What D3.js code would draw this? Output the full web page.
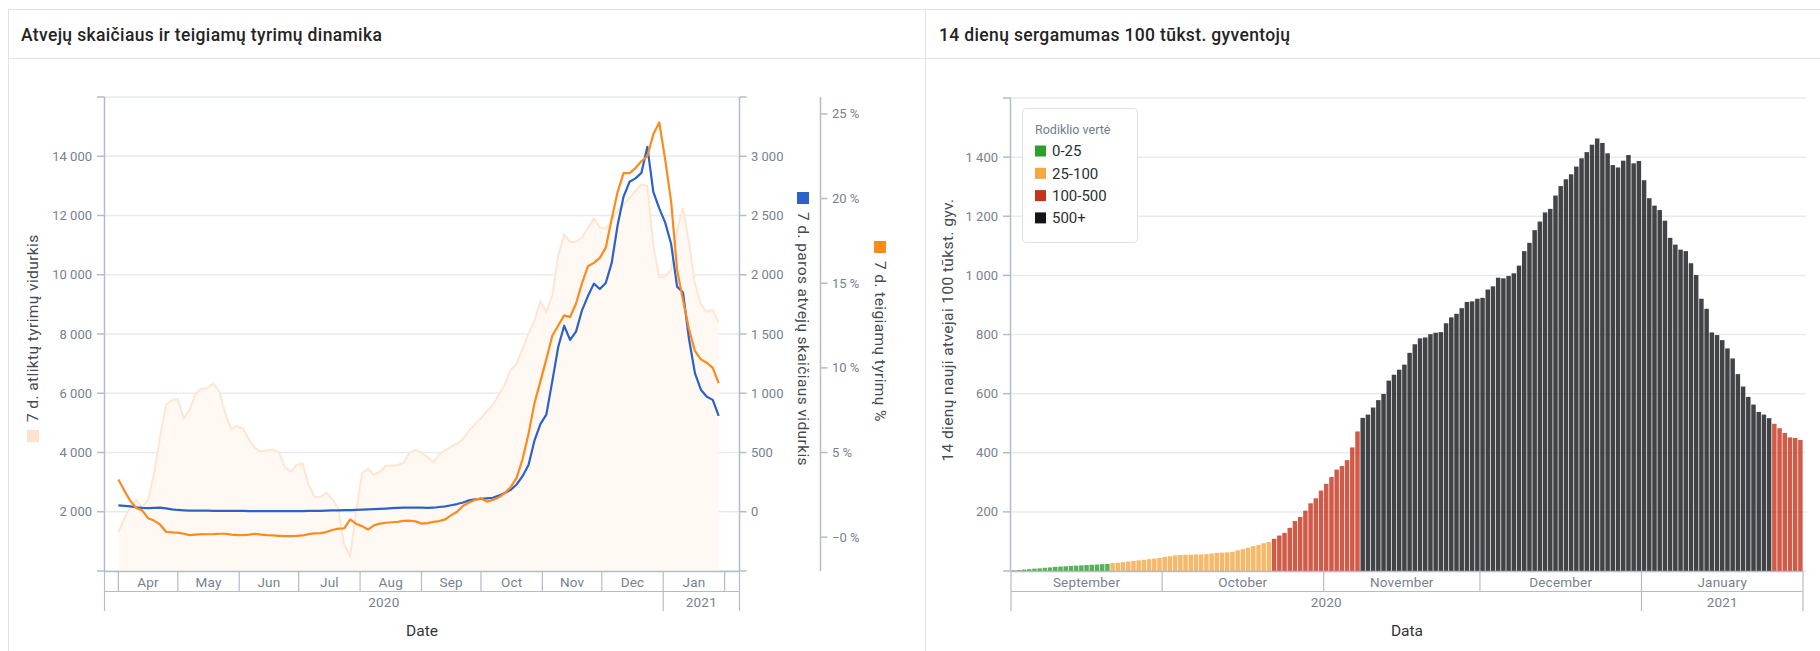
<!DOCTYPE html>
<html><head><meta charset="utf-8">
<script src="https://cdn.jsdelivr.net/npm/d3@7"></script>
<style>
html,body{margin:0;padding:0;background:#fff;}
svg{display:block;font-family:Roboto,"DejaVu Sans",sans-serif;}
</style></head><body>
<svg id="c" width="1820" height="651"></svg>
<script>
// ---------------- DATA ----------------
// Left chart: samples every 3 days starting 2020-04-01
const lineStart = "2020-04-01";
const lineStepDays = 3;
const testsAvg = [1300,1780,2150,2400,2150,2400,3300,4500,5600,5770,5800,5150,5450,5980,6150,6180,6330,6050,5300,4780,4900,4800,4420,4150,4030,4080,4100,4000,3500,3350,3580,3620,2900,2500,2500,2650,2420,2100,900,500,2000,3300,3450,3250,3350,3550,3550,3580,3650,4000,4080,4000,3850,
3680,3950,4080,4200,4300,4450,4750,4950,5150,5400,5600,5950,6280,6800,7000,7500,8000,8450,9100,8750,9300,10650,11350,11100,11120,11250,11580,11900,11600,11550,11850,12180,12380,12580,12840,13050,13000,11000,9900,9950,10150,11500,12250,11100,9700,9000,8750,8820,8400];
const casesAvg = [53,50,45,38,33,30,33,35,28,20,15,12,10,10,9,9,8,8,7,7,7,7,6,6,6,6,5,5,5,5,6,6,7,8,8,10,11,12,13,14,16,18,20,22,25,27,30,32,34,35,36,34,32,
34,40,46,55,65,78,96,105,109,113,118,136,158,185,230,300,395,600,740,820,1100,1390,1570,1450,1520,1700,1820,1925,1880,1930,2100,2420,2660,2785,2813,2860,3080,2700,2560,2440,2260,1900,1850,1460,1170,1030,970,944,810];
const positivePct = [3.4,2.75,2.15,1.72,1.58,1.12,0.98,0.75,0.32,0.28,0.27,0.2,0.12,0.15,0.18,0.17,0.18,0.2,0.2,0.15,0.12,0.12,0.15,0.2,0.15,0.12,0.1,0.08,0.06,0.06,0.07,0.1,0.18,0.22,0.24,0.3,0.42,0.5,0.52,1.05,0.78,0.65,0.45,0.7,0.8,0.85,0.88,0.9,0.96,0.97,0.93,0.8,0.83,
0.9,0.95,1.05,1.3,1.5,1.85,2.05,2.2,2.3,2.1,2.2,2.35,2.6,2.95,3.5,4.6,6.1,7.9,9.2,10.5,11.9,12.5,13.1,13.0,13.8,15.0,16.0,16.2,16.5,17.1,18.8,20.4,21.5,21.5,21.8,22.2,22.5,23.8,24.5,22.3,19.8,15.8,14.0,12.3,11.0,10.5,10.3,10.0,9.1];
const testsTicks = [0,2000,4000,6000,8000,10000,12000,14000,16000];
const testsLabeled = [2000,4000,6000,8000,10000,12000,14000];
const casesTicks = [-500,0,500,1000,1500,2000,2500,3000,3500];
const casesLabeled = [0,500,1000,1500,2000,2500,3000];
const pctTicks = [0,5,10,15,20,25];
const leftMonthNames = ["Apr","May","Jun","Jul","Aug","Sep","Oct","Nov","Dec","Jan"];

// Right chart: one bar per day starting 2020-09-02
const barStart = "2020-09-02";
const incidence14 = [2,3,5,6,8,9,11,12,14,15,16,17,18,19,20,21,22,23,24,
27,28,30,32,34,36,38,40,42,44,48,50,53,54,55,55,56,56,57,59,61,62,63,65,70,74,79,84,88,94,98,
109,120,129,146,169,183,204,229,246,272,295,318,343,355,375,418,472,
518,529,553,578,599,644,664,681,
698,738,767,787,790,801,806,808,838,858,870,889,910,912,921,924,952,963,992,990,998,1007,1033,1082,1110,1153,1182,1213,1225,1270,1302,1325,1342,1368,1396,1417,1442,1463,1448,1413,1373,1365,1388,1407,1379,1387,1322,1261,1236,1221,1185,1127,1104,1087,1082,1041,1001,921,887,807,798,781,753,719,666,624,589,563,538,529,517,
498,483,467,452,450,443];
const incTicks = [0,200,400,600,800,1000,1200,1400,1600];
const incLabeled = [200,400,600,800,1000,1200,1400];
const legendTitle = "Rodiklio vertė";
const legendLabels = ["0-25","25-100","100-500","500+"];
const legendColors = ["#2ca02c","#f5a742","#c6321b","#111418"];
const levelBreaks = [25,100,500];
const rightMonthNames = ["September","October","November","December","January"];

// ---------------- DRAW ----------------
const svg = d3.select("#c");
const loc = d3.formatLocale({decimal:",",thousands:"\u00a0",grouping:[3],currency:["",""],minus:"\u2212"});
const fmt = loc.format(",");
const parse = d3.timeParse("%Y-%m-%d");
const AX = "#b4bdc7", TICK = "#76828e", GRID = "#e7ebef";

// panels
svg.append("rect").attr("x",8.5).attr("y",9.5).attr("width",917).attr("height",700).attr("fill","none").attr("stroke","#e1e3e5");
svg.append("rect").attr("x",925.5).attr("y",9.5).attr("width",920).attr("height",700).attr("fill","none").attr("stroke","#e1e3e5");
svg.append("line").attr("x1",8).attr("x2",1820).attr("y1",58.5).attr("y2",58.5).attr("stroke","#e1e3e5");
svg.append("text").attr("x",21).attr("y",41).attr("font-size",17.5).attr("letter-spacing",0.35).attr("font-weight",500).attr("fill","#252423").text("Atvejų skaičiaus ir teigiamų tyrimų dinamika");
svg.append("text").attr("x",939).attr("y",41).attr("font-size",17.5).attr("letter-spacing",0.35).attr("font-weight",500).attr("fill","#252423").text("14 dienų sergamumas 100 tūkst. gyventojų");

// ===== left chart =====
const lineDates = testsAvg.map((_,i)=>d3.timeDay.offset(parse(lineStart), i*lineStepDays));
const xL = d3.scaleTime().domain([new Date(2020,2,25), new Date(2021,1,8,12)]).range([104.5,739.5]);
const yT = d3.scaleLinear().domain([0,16000]).range([571,97]);
const yC = d3.scaleLinear().domain([-500,3500]).range([571,97]);
const yP = d3.scaleLinear().domain([-2,26]).range([571,97]);
const gL = svg.append("g");

testsTicks.forEach(v=>{
  gL.append("line").attr("x1",104).attr("x2",739).attr("y1",yT(v)).attr("y2",yT(v)).attr("stroke",GRID).attr("stroke-width",1.5);
});

const tData = lineDates.map((d,i)=>({d, v:testsAvg[i]}));
gL.append("path").datum(tData).attr("fill","#fff8f3")
  .attr("d", d3.area().x(p=>xL(p.d)).y0(yT(0)).y1(p=>yT(p.v)));
gL.append("path").datum(tData).attr("fill","none").attr("stroke","#fee6d3").attr("stroke-width",2)
  .attr("d", d3.line().x(p=>xL(p.d)).y(p=>yT(p.v)));
gL.append("path").datum(lineDates.map((d,i)=>({d,v:casesAvg[i]}))).attr("fill","none").attr("stroke","#2a62c9").attr("stroke-width",2.2).attr("stroke-linejoin","round")
  .attr("d", d3.line().x(p=>xL(p.d)).y(p=>yC(p.v)));
gL.append("path").datum(lineDates.map((d,i)=>({d,v:positivePct[i]}))).attr("fill","none").attr("stroke","#fd8a1c").attr("stroke-width",2.2).attr("stroke-linejoin","round")
  .attr("d", d3.line().x(p=>xL(p.d)).y(p=>yP(p.v)));

// left axis
gL.append("line").attr("x1",104.5).attr("x2",104.5).attr("y1",97).attr("y2",571).attr("stroke",AX).attr("stroke-width",1.5);
testsTicks.forEach(v=>gL.append("line").attr("x1",97).attr("x2",104.5).attr("y1",yT(v)).attr("y2",yT(v)).attr("stroke",AX).attr("stroke-width",1.5));
testsLabeled.forEach(v=>gL.append("text").attr("x",92).attr("y",yT(v)).attr("dy","0.35em").attr("text-anchor","end").attr("font-size",13).attr("fill",TICK).text(fmt(v)));
// cases axis
gL.append("line").attr("x1",739.5).attr("x2",739.5).attr("y1",97).attr("y2",571).attr("stroke",AX).attr("stroke-width",1.5);
casesTicks.forEach(v=>gL.append("line").attr("x1",739.5).attr("x2",746.5).attr("y1",yC(v)).attr("y2",yC(v)).attr("stroke",AX).attr("stroke-width",1.5));
casesLabeled.forEach(v=>gL.append("text").attr("x",751).attr("y",yC(v)).attr("dy","0.35em").attr("font-size",13).attr("fill",TICK).text(fmt(v)));
// pct axis
gL.append("line").attr("x1",820.5).attr("x2",820.5).attr("y1",97).attr("y2",571).attr("stroke",AX).attr("stroke-width",1.5);
pctTicks.forEach(v=>{
  gL.append("line").attr("x1",820.5).attr("x2",827.5).attr("y1",yP(v)).attr("y2",yP(v)).attr("stroke",AX).attr("stroke-width",1.5);
  gL.append("text").attr("x",832).attr("y",yP(v)).attr("dy","0.35em").attr("font-size",13).attr("fill",TICK).text((v===0?"\u22120":v)+" %");
});

// axis titles with legend squares
function vTitle(g,x,y,rot,color,label,gap){
  const t = g.append("g").attr("transform",`translate(${x},${y}) rotate(${rot})`);
  t.append("rect").attr("x",-6).attr("y",-6).attr("width",12).attr("height",12).attr("fill",color);
  t.append("text").attr("x",gap).attr("y",0).attr("dy","0.35em").attr("font-size",15.5).attr("letter-spacing",0.4).attr("fill","#454b52").text(label);
}
vTitle(gL,33,436,-90,"#fde3cd","7 d. atliktų tyrimų vidurkis",14);
vTitle(gL,803,198,90,"#2a62c9","7 d. paros atvejų skaičiaus vidurkis",14);
vTitle(gL,880,247,90,"#fd8a1c","7 d. teigiamų tyrimų %",14);

// hierarchical x axis
function hAxis(g, x0, x1, monthBounds, monthLabels, yearBounds, yearLabels, title){
  g.append("line").attr("x1",x0).attr("x2",x1).attr("y1",571.5).attr("y2",571.5).attr("stroke",AX).attr("stroke-width",1.5);
  g.append("line").attr("x1",x0).attr("x2",x1).attr("y1",591.5).attr("y2",591.5).attr("stroke",AX).attr("stroke-width",1.2);
  monthBounds.forEach(b=>g.append("line").attr("x1",b).attr("x2",b).attr("y1",571).attr("y2",591.5).attr("stroke",AX).attr("stroke-width",1.2));
  monthLabels.forEach(m=>g.append("text").attr("x",m.x).attr("y",587).attr("text-anchor","middle").attr("font-size",13.5).attr("letter-spacing",0.2).attr("fill",TICK).text(m.t));
  yearBounds.forEach(b=>g.append("line").attr("x1",b).attr("x2",b).attr("y1",591.5).attr("y2",611).attr("stroke",AX).attr("stroke-width",1.2));
  yearLabels.forEach(m=>g.append("text").attr("x",m.x).attr("y",607).attr("text-anchor","middle").attr("font-size",13.5).attr("letter-spacing",0.2).attr("fill",TICK).text(m.t));
  g.append("text").attr("x",(x0+x1)/2).attr("y",636).attr("text-anchor","middle").attr("font-size",15.5).attr("fill","#333").text(title);
}
{
  const [d0,d1] = xL.domain();
  const months = d3.timeMonth.range(d3.timeMonth.ceil(d0), d1);
  const mb = [xL(d0), ...months.map(m=>xL(m)), xL(d1)];
  const ml = leftMonthNames.map((t,i)=>{const a=months[i], b=d3.timeMonth.offset(a,1); return {t, x:(xL(a)+Math.min(xL(b),xL(d1)))/2};});
  const jan = new Date(2021,0,1);
  const yb = [xL(d0), xL(jan), xL(d1)];
  const yl = [{t:"2020",x:(xL(d0)+xL(jan))/2},{t:"2021",x:(xL(jan)+xL(d1))/2}];
  hAxis(gL, xL(d0), xL(d1), mb, ml, yb, yl, "Date");
}

// ===== right chart =====
const barDates = incidence14.map((_,i)=>d3.timeDay.offset(parse(barStart), i));
const xB = d3.scaleBand().domain(barDates.map(d=>+d)).range([1011,1803]).paddingInner(0.14).paddingOuter(0.07);
const yB = d3.scaleLinear().domain([0,1600]).range([571,98]);
const gR = svg.append("g");
incTicks.forEach(v=>gR.append("line").attr("x1",1010).attr("x2",1806).attr("y1",yB(v)).attr("y2",yB(v)).attr("stroke",GRID).attr("stroke-width",1.5));
const colorOf = v => legendColors[d3.bisectRight(levelBreaks, v)];
gR.selectAll("rect.bar").data(barDates.map((d,i)=>({d,v:incidence14[i]}))).join("rect")
  .attr("class","bar").attr("x",p=>xB(+p.d)).attr("width",xB.bandwidth())
  .attr("y",p=>yB(p.v)).attr("height",p=>yB(0)-yB(p.v))
  .attr("fill",p=>colorOf(p.v)).attr("fill-opacity",0.8);
gR.append("line").attr("x1",1010.5).attr("x2",1010.5).attr("y1",98).attr("y2",571).attr("stroke",AX).attr("stroke-width",1.5);
incTicks.forEach(v=>gR.append("line").attr("x1",1003).attr("x2",1010.5).attr("y1",yB(v)).attr("y2",yB(v)).attr("stroke",AX).attr("stroke-width",1.5));
incLabeled.forEach(v=>gR.append("text").attr("x",998).attr("y",yB(v)).attr("dy","0.35em").attr("text-anchor","end").attr("font-size",13).attr("fill",TICK).text(fmt(v)));
gR.append("text").attr("transform","translate(948,330) rotate(-90)").attr("text-anchor","middle").attr("dy","0.35em").attr("font-size",15.5).attr("letter-spacing",0.4).attr("fill","#454b52").text("14 dienų nauji atvejai 100 tūkst. gyv.");

{
  const step = xB.step(), r0 = xB.range()[0], r1 = xB.range()[1];
  const edge = i => r0 + i*step;
  const months = d3.timeMonth.range(d3.timeMonth.floor(barDates[0]), d3.timeDay.offset(barDates[barDates.length-1],1));
  const firstIdx = months.map(m=>Math.max(0, d3.bisectLeft(barDates.map(d=>+d), +m)));
  const mb = [...firstIdx.map(edge), r1];
  const ml = rightMonthNames.map((t,i)=>({t, x:(mb[i]+mb[i+1])/2}));
  const janIdx = d3.bisectLeft(barDates.map(d=>+d), +new Date(2021,0,1));
  const yb = [r0, edge(janIdx), r1];
  const yl = [{t:"2020",x:(r0+edge(janIdx))/2},{t:"2021",x:(edge(janIdx)+r1)/2}];
  hAxis(gR, r0, r1, mb, ml, yb, yl, "Data");
}

// legend
const lg = gR.append("g");
lg.append("rect").attr("x",1022.5).attr("y",108.5).attr("width",115).attr("height",134).attr("rx",4).attr("fill","#fff").attr("stroke","#dfe3e7");
lg.append("text").attr("x",1035).attr("y",134).attr("font-size",12.5).attr("fill","#717d89").text(legendTitle);
legendLabels.forEach((t,i)=>{
  const cy = 151 + i*22.3;
  lg.append("rect").attr("x",1035).attr("y",cy-5.5).attr("width",11).attr("height",11).attr("fill",legendColors[i]);
  lg.append("text").attr("x",1052).attr("y",cy).attr("dy","0.36em").attr("font-size",15).attr("fill","#2b2f33").text(t);
});
</script>
</body></html>
